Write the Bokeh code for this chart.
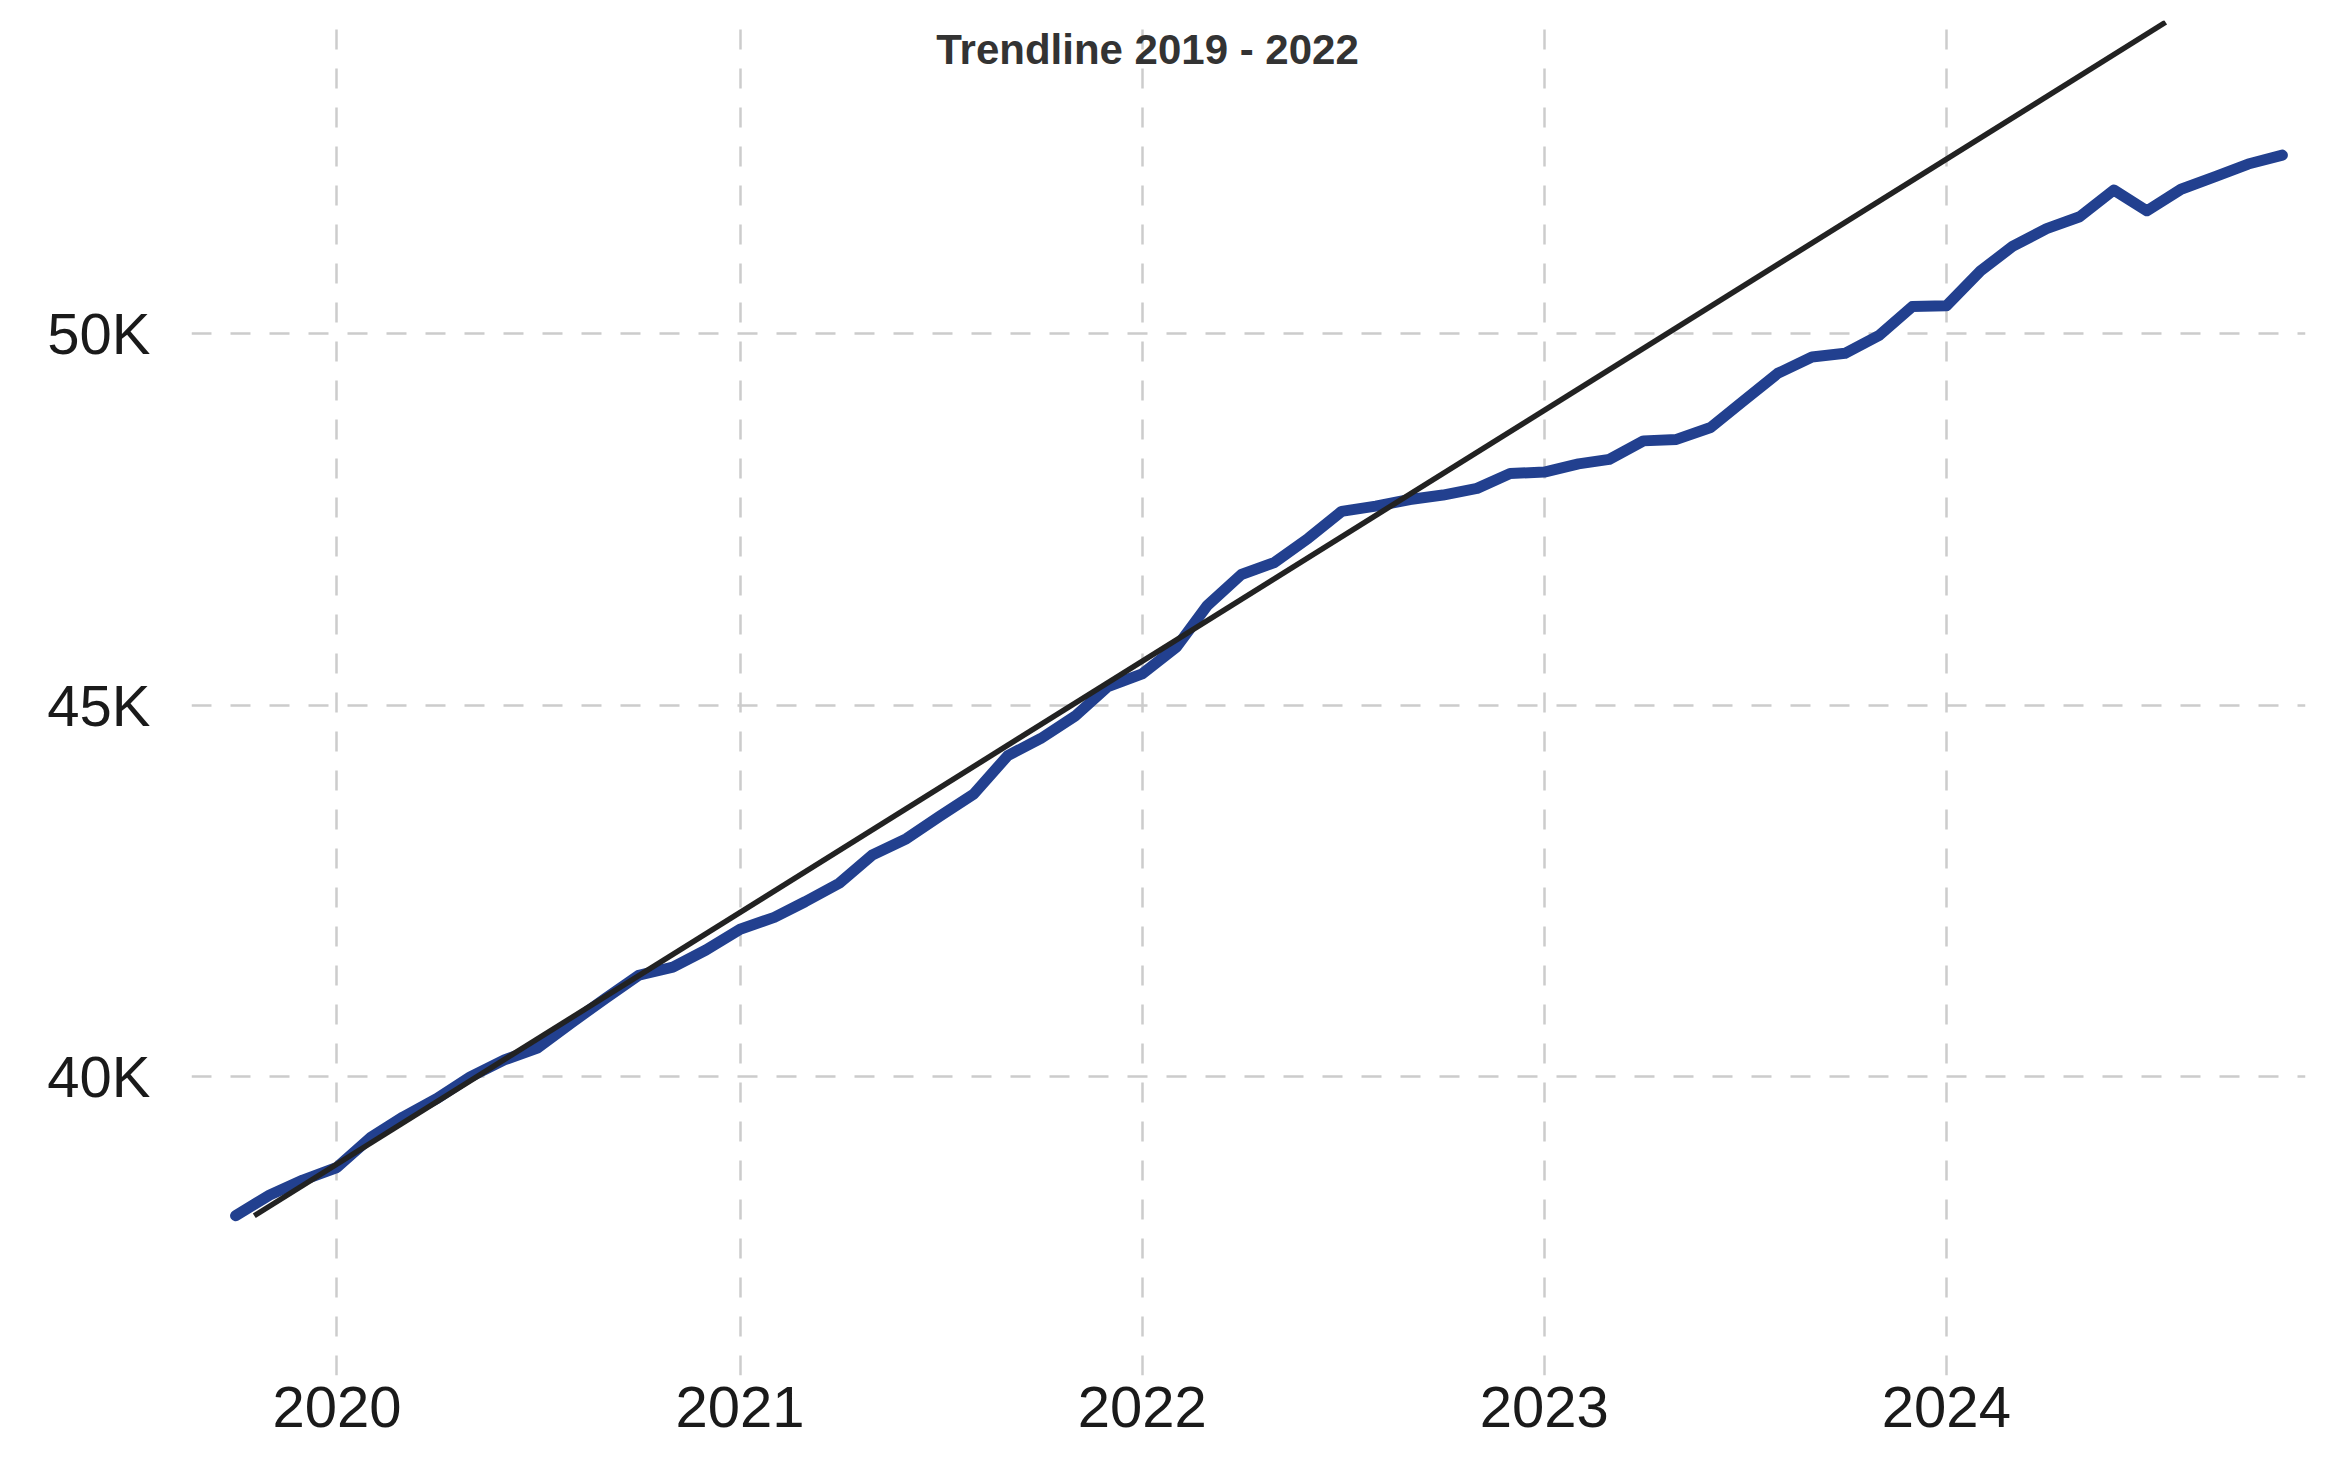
import pandas as pd
from bokeh.plotting import figure
from bokeh.models import (ColumnDataSource, FixedTicker, DatetimeTickFormatter,
                          Range1d, Label)
from bokeh.embed import file_html
from bokeh.resources import INLINE

# ---------------- data ----------------
first_month = "2019-10-01"
last_month = "2024-11-01"
values = [
    38120, 38400, 38600,
    38770, 39180, 39450, 39700, 39990, 40220, 40380, 40720, 41050, 41360, 41470, 41700,
    41980, 42140, 42350, 42600, 42980, 43200, 43500, 43800, 44320, 44550, 44850, 45250,
    45420, 45780, 46340, 46760, 46920, 47250, 47610, 47680, 47770, 47830, 47920, 48120,
    48140, 48250, 48310, 48560, 48580, 48740, 49100, 49470, 49690, 49740, 49980, 50370,
    50380, 50850, 51180, 51420, 51580, 51940, 51660, 51950, 52120, 52290, 52410,
]
trend_dates = ["2019-10-18", "2024-07-18"]
trend_values = [38120, 54200]

x_tick_years = [2020, 2021, 2022, 2023, 2024]
y_ticks = [40000, 45000, 50000]
y_tick_labels = ["40K", "45K", "50K"]
title_text = "Trendline 2019 - 2022"

dates = pd.date_range(first_month, last_month, freq="MS")
src = ColumnDataSource(dict(x=dates, y=values))
trend = ColumnDataSource(dict(x=pd.to_datetime(trend_dates), y=trend_values))

# ---------------- figure ----------------
W, H = 2310, 1445
p = figure(width=W, height=H, x_axis_type="datetime",
           output_backend="svg", toolbar_location=None,
           min_border_left=191, min_border_right=5,
           min_border_top=20, min_border_bottom=70)
p.x_range = Range1d(pd.Timestamp("2019-08-22"), pd.Timestamp("2024-11-22"))
p.y_range = Range1d(35967, 54224)
p.outline_line_color = None
p.background_fill_color = "white"
p.border_fill_color = "white"

p.line("x", "y", source=src, line_color="#22408f", line_width=11,
       line_join="round", line_cap="round")
p.line("x", "y", source=trend, line_color="#222222", line_width=5.5)

# axes
xt = [pd.Timestamp(f"{y}-01-01").value // 10**6 for y in x_tick_years]
p.xaxis.ticker = FixedTicker(ticks=xt)
p.xaxis.formatter = DatetimeTickFormatter(
    years="%Y", months="%Y", days="%Y", hours="%Y", minutes="%Y",
    seconds="%Y", milliseconds="%Y", microseconds="%Y", minsec="%Y",
    hourmin="%Y")
p.yaxis.ticker = FixedTicker(ticks=y_ticks)
p.yaxis.major_label_overrides = dict(zip(y_ticks, y_tick_labels))

for ax in (p.xaxis, p.yaxis):
    ax.axis_line_color = None
    ax.major_tick_line_color = None
    ax.minor_tick_line_color = None
    ax.major_tick_out = 0
    ax.major_tick_in = 0
    ax.major_label_text_font = "Liberation Sans"
    ax.major_label_text_color = "#1a1a1a"
    ax.major_label_text_font_size = "58px"
p.xaxis.major_label_standoff = 11
p.yaxis.major_label_standoff = 41

for g in (p.xgrid, p.ygrid):
    g.grid_line_color = "#cccccc"
    g.grid_line_width = 2.5
    g.grid_line_dash = "20 19"

p.add_layout(Label(x=956, y=1326, x_units="screen", y_units="screen",
                   text=title_text, text_align="center",
                   text_baseline="alphabetic", text_font="Liberation Sans",
                   text_font_style="bold", text_font_size="42px",
                   text_color="#333333"))

open("out.html", "w").write(file_html(p, INLINE))
